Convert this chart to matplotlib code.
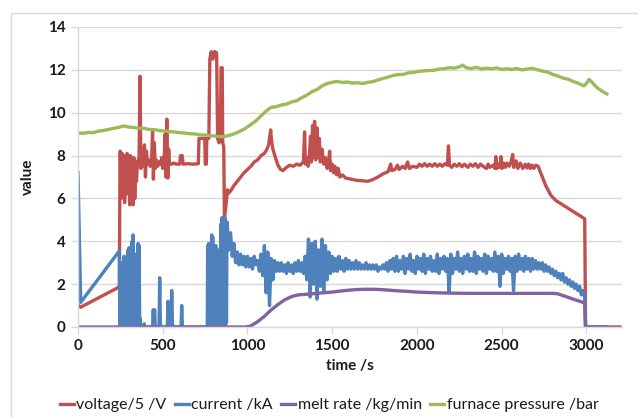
import numpy as np
import matplotlib.pyplot as plt
from matplotlib.patches import Rectangle

COLORS = {
    'voltage': '#C0504D',
    'current': '#4F81BD',
    'melt': '#8064A2',
    'pressure': '#9BBB59',
    'grid': '#D9D9D9',
    'text': '#1A1A1A',
}

plt.rcParams.update({
    'font.family': ['Lato', 'DejaVu Sans'],
    'font.size': 11,
})

# ---- voltage / 5 (V) ----
volt_start = [(0, 1.05), (15, 0.92), (244, 1.87), (248, 8.2)]
# arc strike, 250-355 s every 5 s
volt_strike = [8.2, 6.0, 8.1, 6.5, 8.0, 5.8, 7.9, 6.2, 8.1, 6.6, 7.8,
               5.7, 8.0, 6.4, 7.6, 5.7, 7.9, 6.0, 7.5, 6.8, 7.6, 7.8]
volt_points = [
    (360, 7.6), (366, 11.7), (371, 7.4), (378, 7.8), (386, 7.5), (392, 8.5),
    (398, 7.0), (404, 8.2), (410, 7.6), (418, 7.8), (426, 7.5), (434, 7.7),
    (440, 9.1), (445, 6.9), (450, 8.6), (456, 7.4), (462, 7.8), (470, 7.5),
    (478, 7.7), (486, 7.6), (494, 7.9), (500, 7.4), (508, 7.7), (514, 9.0),
    (518, 7.0), (524, 9.7), (530, 6.95), (535, 8.3), (540, 7.6), (550, 7.6),
    (565, 7.65), (580, 7.6), (600, 7.6), (605, 8.0), (615, 8.0), (620, 7.6),
    (650, 7.62), (680, 7.6), (710, 7.62), (714, 8.8), (748, 8.8), (751, 7.6),
    (757, 7.6), (760, 8.8), (772, 8.8), (778, 12.5), (786, 12.85), (796, 12.5),
    (806, 12.85), (818, 12.8), (824, 8.8), (832, 8.6), (840, 8.7), (844, 12.1),
    (851, 12.1), (854, 8.6), (860, 8.4), (864, 5.1), (872, 5.6), (882, 6.4),
    (890, 6.25), (905, 6.4), (920, 6.6), (940, 6.8), (960, 7.0), (980, 7.2),
    (1000, 7.35), (1020, 7.5), (1040, 7.7), (1060, 7.8), (1080, 8.0),
    (1100, 8.1), (1115, 8.3), (1125, 8.5), (1132, 8.9), (1137, 9.2),
    (1142, 8.7), (1150, 8.3), (1165, 7.9), (1180, 7.55), (1195, 7.35),
    (1210, 7.3), (1230, 7.45), (1250, 7.55), (1270, 7.5), (1290, 7.6),
    (1310, 7.55), (1330, 7.7), (1337, 9.1), (1342, 7.6), (1350, 7.9),
    (1358, 7.5), (1366, 8.1), (1372, 8.9), (1377, 7.7), (1384, 9.4),
    (1390, 7.9), (1396, 9.6), (1402, 7.8), (1410, 9.3), (1416, 7.9),
    (1424, 8.8), (1430, 7.7), (1440, 8.3), (1450, 7.6), (1460, 7.9),
    (1470, 7.4), (1478, 7.7), (1485, 8.2), (1490, 7.3), (1500, 7.6),
    (1508, 7.2), (1516, 7.5), (1525, 7.1), (1535, 7.4), (1545, 7.0),
    (1560, 7.1), (1580, 6.95), (1610, 6.9), (1640, 6.85), (1680, 6.82),
    (1710, 6.8), (1740, 6.88), (1770, 7.0), (1800, 7.15), (1830, 7.25),
    (1845, 7.6), (1852, 7.3), (1870, 7.35), (1885, 7.55), (1895, 7.35),
    (1915, 7.5), (1930, 7.4), (1945, 7.7), (1955, 7.4), (1975, 7.5),
    (2000, 7.45), (2015, 7.6), (2030, 7.5), (2045, 7.62), (2060, 7.5),
    (2075, 7.6), (2090, 7.5), (2105, 7.62), (2120, 7.5), (2135, 7.6),
    (2150, 7.5), (2165, 7.62), (2180, 7.55), (2186, 8.45), (2192, 7.55),
    (2205, 7.45), (2220, 7.6), (2235, 7.5), (2250, 7.62), (2265, 7.48),
    (2280, 7.6), (2300, 7.45), (2315, 7.6), (2330, 7.5), (2345, 7.62),
    (2360, 7.45), (2375, 7.6), (2390, 7.5), (2410, 7.4), (2420, 7.6),
    (2430, 7.45), (2450, 7.55), (2460, 7.4), (2466, 7.95), (2472, 7.4),
    (2482, 7.6), (2490, 7.45), (2496, 7.95), (2502, 7.4), (2512, 7.65),
    (2522, 7.45), (2532, 7.65), (2545, 7.5), (2555, 7.7), (2565, 8.05),
    (2571, 7.45), (2585, 7.75), (2595, 7.4), (2610, 7.65), (2625, 7.4),
    (2640, 7.6), (2650, 7.42), (2660, 7.6), (2670, 7.4), (2680, 7.55),
    (2690, 7.4), (2700, 7.55), (2715, 7.5), (2735, 7.1), (2760, 6.6),
    (2790, 6.15), (2820, 5.9), (2860, 5.7), (2920, 5.4), (2990, 5.05),
    (2995, 0.0), (3197, 0.0),
]

# ---- current (kA) ----
cur_start = [(0, 7.2), (16, 1.15), (244, 3.55), (247, 0.0)]
# arc strike, 250-370 s every 3 s
cur_strike = [0, 2.6, 0.1, 3.0, 0, 2.5, 0.2, 3.3, 0, 2.8,
              0, 3.1, 0.1, 3.3, 0, 3.6, 0.1, 3.7, 0, 3.5,
              0.1, 3.4, 0, 4.0, 0.1, 4.3, 0, 3.2, 0.1, 3.4,
              0, 3.0, 0.1, 3.3, 0, 3.9, 0.1, 3.8, 0, 0.4, 0]
cur_spikes = [
    (388, 0.0), (391, 0.15), (394, 0.0), (440, 0.0), (444, 0.8), (448, 0.1),
    (452, 0.8), (456, 0.0), (478, 0.0), (482, 2.3), (486, 0.2), (490, 0.0),
    (527, 0.0), (531, 1.2), (535, 0.3), (539, 0.0), (549, 0.0), (553, 1.7),
    (557, 0.2), (561, 0.0), (608, 0.0), (612, 1.0), (616, 0.0), (763, 0.0),
]
# restrike, 765-879 s every 3 s
cur_restrike = [3.8, 0, 3.9, 0.1, 3.8, 0, 3.7, 0.1, 4.3, 0,
                4.2, 0.1, 3.7, 0, 3.6, 0.1, 3.8, 0, 3.5, 0.1,
                3.6, 0, 0.2, 0, 3.4, 0, 4.8, 0.1, 5.1, 0,
                5.0, 0.1, 4.9, 0, 5.1, 0.1, 4.8, 0.2, 4.6]
# steady melting, 880-2990 s every 10 s
cur_melt = [
    4.9, 3.6, 4.4, 3.3, 3.9, 3.0, 3.5, 2.9, 3.4, 2.9,
    3.3, 2.8, 3.3, 2.8, 3.2, 2.7, 3.3, 2.9, 3.1, 2.6,
    3.4, 2.4, 3.8, 1.6, 3.5, 1.0, 3.2, 2.2, 3.1, 2.6,
    3.0, 2.6, 3.0, 2.6, 2.9, 2.5, 3.0, 2.6, 2.9, 2.5,
    3.0, 2.6, 3.1, 2.6, 3.0, 2.5, 3.3, 2.2, 4.1, 1.4,
    3.9, 2.0, 4.0, 1.3, 3.6, 1.9, 4.1, 1.6, 3.8, 2.2,
    3.5, 2.5, 3.3, 2.6, 3.2, 2.6, 3.3, 2.7, 3.1, 2.6,
    3.2, 2.7, 3.1, 2.7, 3.0, 2.7, 3.1, 2.7, 3.0, 2.7,
    2.9, 2.7, 3.0, 2.7, 2.9, 2.7, 2.9, 2.7, 2.9, 2.6,
    2.8, 2.7, 2.9, 2.7, 3.0, 2.6, 3.1, 2.7, 3.2, 2.6,
    3.3, 2.6, 3.1, 2.7, 3.3, 2.5, 3.2, 2.7, 3.4, 2.6,
    3.1, 2.5, 3.3, 2.7, 3.2, 2.6, 3.4, 2.5, 3.2, 2.7,
    3.3, 2.6, 3.1, 2.6, 3.4, 2.5, 3.2, 2.7, 3.3, 2.6,
    3.2, 1.6, 3.4, 2.5, 3.2, 2.7, 3.5, 2.6, 3.2, 2.5,
    3.3, 2.7, 3.4, 2.6, 3.2, 2.6, 3.5, 2.5, 3.3, 2.7,
    3.2, 2.6, 3.4, 2.5, 3.3, 2.7, 3.2, 2.6, 3.5, 2.6,
    3.3, 1.9, 3.4, 2.5, 3.2, 2.7, 3.3, 2.6, 3.2, 1.7,
    3.3, 2.6, 3.4, 2.7, 3.2, 2.6, 3.3, 2.7, 3.2, 2.6,
    3.2, 2.7, 3.1, 2.7, 3.0, 2.7, 3.0, 2.6, 2.9, 2.6,
    2.8, 2.5, 2.7, 2.4, 2.6, 2.3, 2.5, 2.2, 2.5, 2.1,
    2.3, 2.0, 2.2, 1.9, 2.1, 1.8, 2.0, 1.7, 1.9, 1.5,
    1.7, 1.4,
]
cur_end = [(2995, 0.0), (3119, 0.0)]

# ---- melt rate (kg/min) ----
melt_points = [
    (0, 0.0), (990, 0.0), (1020, 0.05), (1060, 0.25), (1100, 0.5),
    (1140, 0.8), (1180, 1.05), (1220, 1.27), (1260, 1.42), (1300, 1.5),
    (1350, 1.53), (1400, 1.56), (1450, 1.6), (1500, 1.63), (1550, 1.68),
    (1600, 1.72), (1650, 1.75), (1700, 1.76), (1750, 1.76), (1800, 1.74),
    (1850, 1.71), (1900, 1.68), (1950, 1.66), (2000, 1.63), (2100, 1.6),
    (2200, 1.58), (2300, 1.57), (2500, 1.57), (2700, 1.57), (2800, 1.57),
    (2830, 1.55), (2990, 1.12), (2995, 0.0), (3119, 0.0),
]

# ---- furnace pressure (bar) ----
press_points = [
    (0, 9.05), (30, 9.04), (60, 9.08), (90, 9.07), (120, 9.14), (150, 9.17),
    (180, 9.22), (210, 9.27), (240, 9.32), (270, 9.38), (300, 9.33),
    (330, 9.31), (360, 9.28), (390, 9.27), (420, 9.22), (450, 9.21),
    (480, 9.17), (510, 9.15), (540, 9.12), (570, 9.10), (600, 9.07),
    (630, 9.05), (660, 9.02), (690, 9.01), (720, 8.97), (750, 8.96),
    (780, 8.93), (810, 8.91), (840, 8.88), (870, 8.90), (900, 8.96),
    (930, 9.04), (960, 9.15), (990, 9.28), (1020, 9.45), (1050, 9.62),
    (1080, 9.85), (1110, 10.08), (1140, 10.25), (1170, 10.28),
    (1200, 10.36), (1230, 10.40), (1260, 10.50), (1290, 10.56),
    (1320, 10.70), (1350, 10.82), (1380, 10.98), (1410, 11.08),
    (1440, 11.25), (1470, 11.36), (1500, 11.42), (1530, 11.46),
    (1560, 11.41), (1590, 11.43), (1620, 11.38), (1650, 11.40),
    (1680, 11.36), (1710, 11.42), (1740, 11.45), (1770, 11.53),
    (1800, 11.60), (1830, 11.66), (1860, 11.74), (1890, 11.78),
    (1920, 11.79), (1950, 11.86), (1980, 11.88), (2010, 11.93),
    (2040, 11.95), (2070, 11.97), (2100, 11.98), (2130, 12.04),
    (2160, 12.05), (2190, 12.10), (2220, 12.08), (2250, 12.14),
    (2270, 12.22), (2290, 12.10), (2320, 12.06), (2350, 12.12),
    (2380, 12.04), (2410, 12.08), (2440, 12.05), (2470, 12.09),
    (2500, 12.02), (2530, 12.05), (2560, 12.02), (2590, 12.06),
    (2620, 12.00), (2650, 12.04), (2680, 12.07), (2710, 12.01),
    (2740, 11.94), (2770, 11.90), (2800, 11.79), (2830, 11.72),
    (2860, 11.62), (2890, 11.57), (2920, 11.46), (2950, 11.38),
    (2985, 11.25), (3000, 11.36), (3015, 11.55), (3030, 11.45),
    (3060, 11.18), (3090, 11.02), (3120, 10.88),
]


def unzip(points):
    t, v = zip(*points)
    return list(t), list(v)


vt0, vv0 = unzip(volt_start)
vt1, vv1 = unzip(volt_points)
volt_t = np.concatenate([vt0, np.linspace(250, 355, len(volt_strike)), vt1])
volt_v = np.concatenate([vv0, volt_strike, vv1])

ct0, cv0 = unzip(cur_start)
ct1, cv1 = unzip(cur_spikes)
ct2, cv2 = unzip(cur_end)
cur_t = np.concatenate([ct0, np.linspace(250, 370, len(cur_strike)), ct1,
                        np.linspace(765, 879, len(cur_restrike)),
                        np.arange(880, 3000, 10), ct2])
cur_v = np.concatenate([cv0, cur_strike, cv1, cur_restrike, cur_melt, cv2])

melt_t, melt_v = unzip(melt_points)
press_t, press_v = unzip(press_points)

fig = plt.figure(figsize=(6.38, 4.18), dpi=100)
ax = fig.add_axes([78 / 638, 1 - 327 / 418, 544 / 638, 300 / 418])

lw = 2.4
ax.plot(volt_t, volt_v, color=COLORS['voltage'], lw=lw, label='voltage/5 /V')
ax.plot(cur_t, cur_v, color=COLORS['current'], lw=lw, label='current /kA')
ax.plot(melt_t, melt_v, color=COLORS['melt'], lw=lw, label='melt rate /kg/min')
ax.plot(press_t, press_v, color=COLORS['pressure'], lw=lw,
        label='furnace pressure /bar')

ax.set_xlim(0, 3210)
ax.set_ylim(0, 14)
ax.set_xticks(np.arange(0, 3001, 500))
ax.set_yticks(np.arange(0, 15, 2))
ax.grid(axis='y', color=COLORS['grid'], lw=1)
ax.set_axisbelow(True)
for side in ['top', 'right']:
    ax.spines[side].set_visible(False)
for side in ['left', 'bottom']:
    ax.spines[side].set_color(COLORS['grid'])
    ax.spines[side].set_linewidth(1)
ax.tick_params(direction='out', length=5, width=1, color=COLORS['grid'],
               labelcolor=COLORS['text'], labelsize=11, pad=4)
for lab in ax.get_xticklabels() + ax.get_yticklabels():
    lab.set_fontweight('bold')

ax.set_xlabel('time /s', fontweight='bold', fontsize=11, color=COLORS['text'],
              labelpad=4)
ax.set_ylabel('value', fontweight='bold', fontsize=11, color=COLORS['text'],
              labelpad=9)

fig.legend(loc='center', bbox_to_anchor=(329 / 638, 1 - 405 / 418), ncol=4,
           frameon=False, fontsize=11.5, handlelength=0.9, handletextpad=0.15,
           columnspacing=0.5, labelcolor=COLORS['text'])

# light chart-area frame
fig.patches.append(Rectangle((11 / 638, -0.1), 1.0, 1.1 - 13 / 418,
                             transform=fig.transFigure, fill=False,
                             edgecolor=COLORS['grid'], lw=1))

fig.savefig('out.png', dpi=100)
